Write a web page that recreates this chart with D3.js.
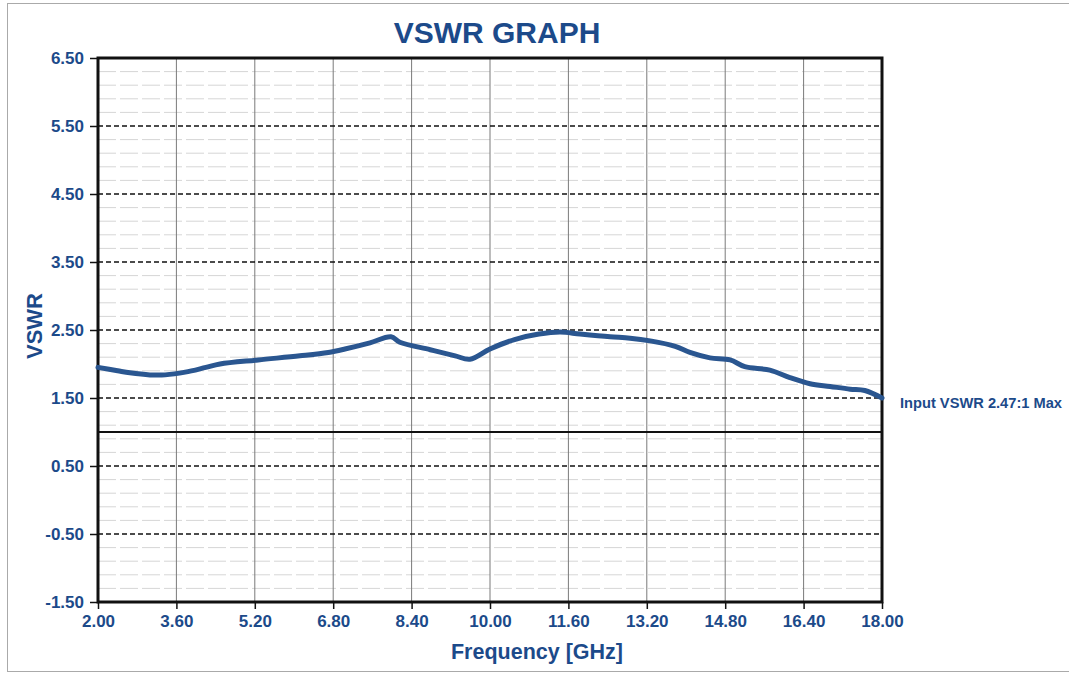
<!DOCTYPE html>
<html>
<head>
<meta charset="utf-8">
<script src="https://cdn.jsdelivr.net/npm/d3@7"></script>
<style>
  body { margin: 0; background: #fff; }
  text { font-family: "Liberation Sans", Arial, sans-serif; font-weight: bold; fill: #1c4a8a; }
</style>
</head>
<body>
<svg id="chart" width="1069" height="674"></svg>
<script>
// Data
var freq = [2.0, 2.4, 2.65, 3.06, 3.37, 3.78, 4.2, 4.49, 5.27, 6.12, 6.7, 7.04, 7.55, 7.98, 8.16, 8.78, 9.29, 9.59,
            10.0, 10.5, 11.0, 11.43, 11.84, 12.45, 12.86, 13.27, 13.78, 14.08, 14.49, 14.9, 15.2, 15.71,
            16.12, 16.53, 16.94, 17.35, 17.65, 18.0];
var vswr = [1.95, 1.90, 1.87, 1.84, 1.84, 1.88, 1.95, 2.0, 2.06, 2.12, 2.17, 2.22, 2.31, 2.40, 2.32, 2.21, 2.12, 2.07,
            2.22, 2.36, 2.44, 2.47, 2.44, 2.40, 2.38, 2.34, 2.26, 2.17, 2.09, 2.06, 1.96, 1.91,
            1.80, 1.71, 1.67, 1.63, 1.61, 1.50];
var xTicks = [2.0, 3.6, 5.2, 6.8, 8.4, 10.0, 11.6, 13.2, 14.8, 16.4, 18.0];
var yTicks = [-1.5, -0.5, 0.5, 1.5, 2.5, 3.5, 4.5, 5.5, 6.5];
var refLine = 1.0;
var noteText = "Input VSWR 2.47:1 Max";

var margin = {left: 98, top: 58, right: 187, bottom: 72};
var width = 1069 - margin.left - margin.right;   // 784
var height = 674 - margin.top - margin.bottom;   // 544

var svg = d3.select("svg#chart");

// faint scanned page frame
svg.append("rect").attr("x", 7.5).attr("y", 3.5).attr("width", 1075).attr("height", 668)
    .attr("fill", "none").attr("stroke", "#aaa").attr("stroke-width", 1);

var g = svg.append("g").attr("transform", "translate(" + margin.left + "," + margin.top + ")");

var x = d3.scaleLinear().domain([2, 18]).range([0, width]);
var y = d3.scaleLinear().domain([-1.5, 6.5]).range([height, 0]);

var fmt = function(d) { return d3.format(".2f")(d).replace("\u2212", "-"); };

// minor horizontal grid (0.2 steps)
var minor = d3.range(-1.3, 6.5, 0.2).map(function(d) { return +d.toFixed(2); })
    .filter(function(d) { return Math.abs((d + 1.5) % 1) > 0.05 && Math.abs((d + 1.5) % 1 - 1) > 0.05; });
g.append("g").selectAll("line").data(minor).enter().append("line")
    .attr("x1", 0).attr("x2", width)
    .attr("y1", function(d) { return y(d); }).attr("y2", function(d) { return y(d); })
    .attr("stroke", "#d6d6d6").attr("stroke-width", 1).attr("stroke-dasharray", "18,4");

// vertical grid
g.append("g").selectAll("line").data(xTicks.slice(1, -1)).enter().append("line")
    .attr("x1", function(d) { return x(d); }).attr("x2", function(d) { return x(d); })
    .attr("y1", 0).attr("y2", height)
    .attr("stroke", "#7a7a7a").attr("stroke-width", 1);

// major dashed horizontal grid
g.append("g").selectAll("line").data(yTicks.slice(1, -1)).enter().append("line")
    .attr("x1", 0).attr("x2", width)
    .attr("y1", function(d) { return y(d); }).attr("y2", function(d) { return y(d); })
    .attr("stroke", "#111").attr("stroke-width", 1.5).attr("stroke-dasharray", "5,3");

// solid reference at 1.0
g.append("line").attr("x1", 0).attr("x2", width).attr("y1", y(refLine)).attr("y2", y(refLine))
    .attr("stroke", "#111").attr("stroke-width", 2);

// axes
var yAxis = d3.axisLeft(y).tickValues(yTicks).tickFormat(fmt).tickSize(8).tickPadding(6);
var xAxis = d3.axisBottom(x).tickValues(xTicks).tickFormat(fmt).tickSize(7).tickPadding(4);

var ya = g.append("g").call(yAxis);
ya.select(".domain").remove();
ya.selectAll(".tick line").attr("stroke", "#111").attr("stroke-width", 1.5);
ya.selectAll("text").style("font-size", "17px").attr("dy", "0.35em");

var xa = g.append("g").attr("transform", "translate(0," + height + ")").call(xAxis);
xa.select(".domain").remove();
xa.selectAll(".tick line").attr("stroke", "#111").attr("stroke-width", 1.5);
xa.selectAll("text").style("font-size", "17px").attr("dy", "0.85em");

// plot border
g.append("rect").attr("x", 0).attr("y", 0).attr("width", width).attr("height", height)
    .attr("fill", "none").attr("stroke", "#111").attr("stroke-width", 3);

// data line
g.append("path").datum(d3.zip(freq, vswr))
    .attr("fill", "none").attr("stroke", "#2a5690").attr("stroke-width", 5)
    .attr("stroke-linejoin", "round").attr("stroke-linecap", "round")
    .attr("d", d3.line().x(function(d) { return x(d[0]); }).y(function(d) { return y(d[1]); })
        .curve(d3.curveCatmullRom.alpha(0.5)));

// titles
svg.append("text").attr("x", 497).attr("y", 43).attr("text-anchor", "middle")
    .style("font-size", "30px").text("VSWR GRAPH");
svg.append("text").attr("x", 537).attr("y", 659).attr("text-anchor", "middle")
    .style("font-size", "21.5px").text("Frequency [GHz]");
svg.append("text").attr("transform", "translate(42,326) rotate(-90)")
    .attr("text-anchor", "middle").style("font-size", "22px").text("VSWR");

// note
svg.append("text").attr("x", 900).attr("y", 408).style("font-size", "14px")
    .attr("textLength", 162).attr("lengthAdjust", "spacingAndGlyphs").text(noteText);
</script>
</body>
</html>
